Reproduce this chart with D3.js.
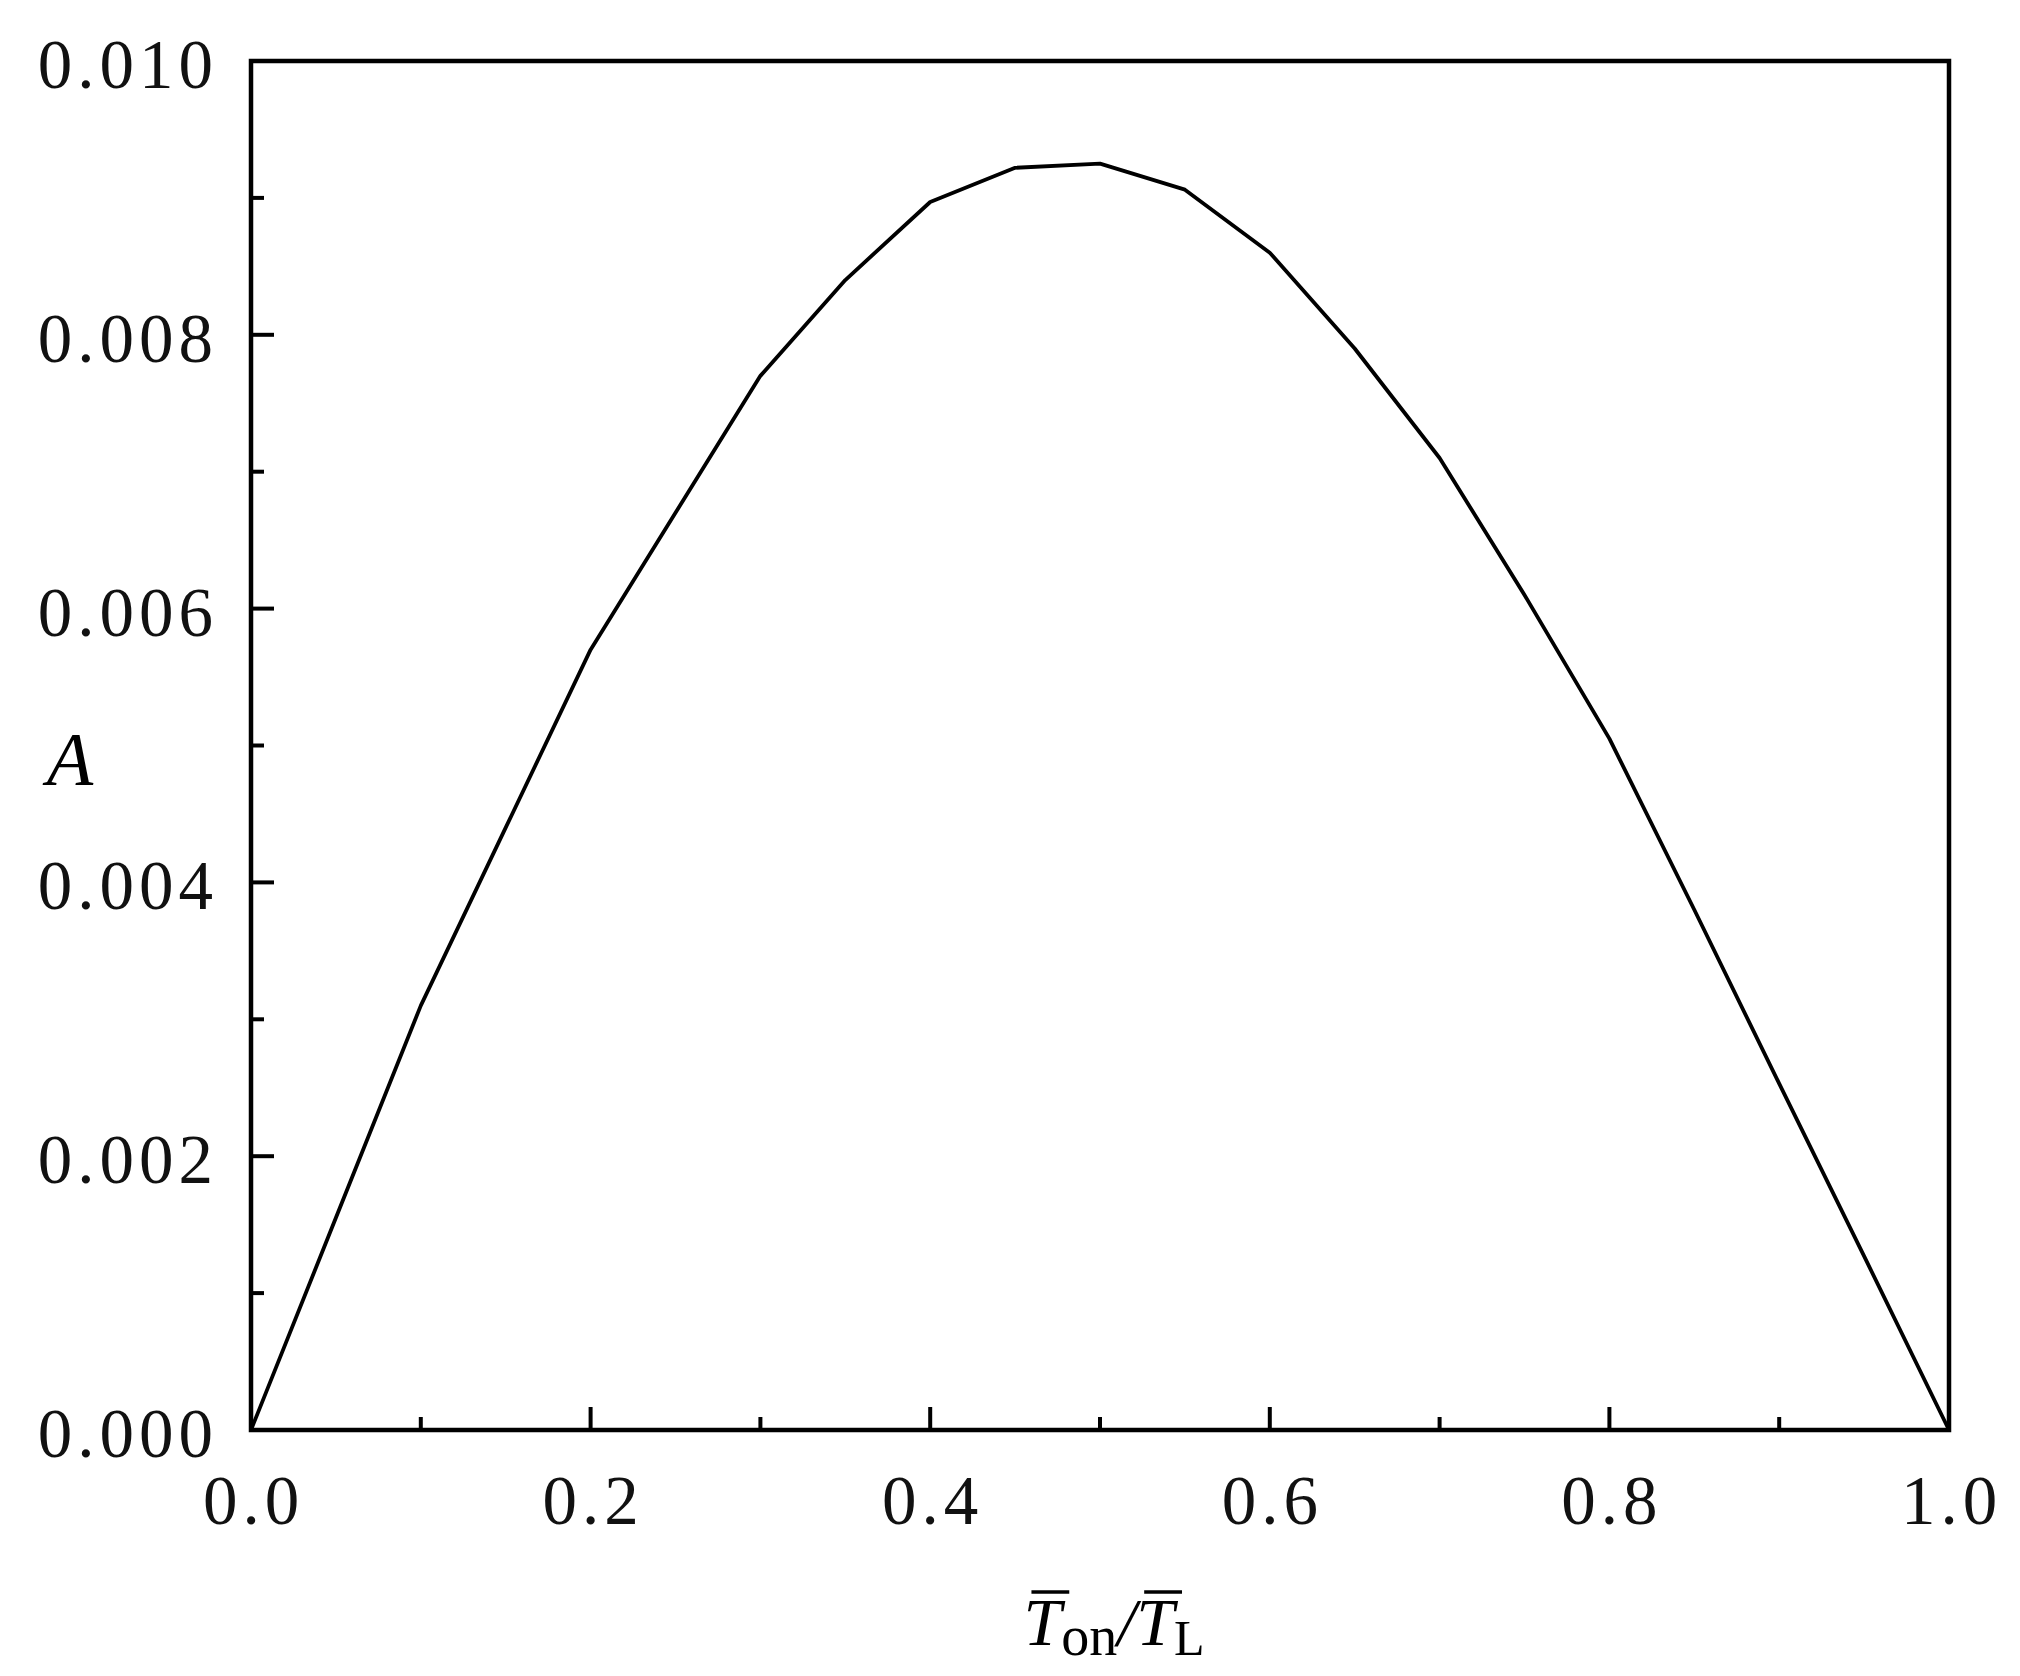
<!DOCTYPE html>
<html>
<head>
<meta charset="utf-8">
<script src="https://cdn.jsdelivr.net/npm/d3@7"></script>
<style>
  html, body { margin: 0; padding: 0; background: #fff; }
  svg { display: block; }
</style>
</head>
<body>
<svg id="chart" width="2020" height="1676"></svg>
<script>
// ---- data ----
const xValues = [0, 0.05, 0.1, 0.15, 0.2, 0.25, 0.3, 0.35, 0.4, 0.45, 0.5,
                 0.55, 0.6, 0.65, 0.7, 0.75, 0.8, 0.85, 0.9, 0.95, 1.0];
const aValues = [0, 0.00155, 0.0031, 0.0044, 0.0057, 0.0067, 0.0077, 0.0084, 0.00897, 0.00922, 0.00925,
                 0.00906, 0.0086, 0.0079, 0.0071, 0.0061, 0.00505, 0.0038, 0.00253, 0.00127, 0];
const xTicks = [0, 0.2, 0.4, 0.6, 0.8, 1.0];
const xMinorTicks = [0.1, 0.3, 0.5, 0.7, 0.9];
const yTicks = [0, 0.002, 0.004, 0.006, 0.008, 0.010];
const yMinorTicks = [0.001, 0.003, 0.005, 0.007, 0.009];
const yLabel = "A";

// ---- layout ----
const L = 251, R = 1949, T = 61, B = 1430;
const svg = d3.select("#chart");
const x = d3.scaleLinear().domain([0, 1]).range([L, R]);
const y = d3.scaleLinear().domain([0, 0.010]).range([B, T]);

const font = "'Liberation Serif', 'Times New Roman', serif";
const majorLen = 23, minorLen = 13, axisW = 4.5;

// frame
svg.append("rect")
  .attr("x", L).attr("y", T).attr("width", R - L).attr("height", B - T)
  .attr("fill", "none").attr("stroke", "#000").attr("stroke-width", axisW);

// bottom axis ticks (inward)
const gx = svg.append("g");
gx.selectAll("line.maj").data(xTicks).join("line")
  .attr("x1", d => x(d)).attr("x2", d => x(d))
  .attr("y1", B).attr("y2", B - majorLen)
  .attr("stroke", "#000").attr("stroke-width", 4);
gx.selectAll("line.min").data(xMinorTicks).join("line")
  .attr("x1", d => x(d)).attr("x2", d => x(d))
  .attr("y1", B).attr("y2", B - minorLen)
  .attr("stroke", "#000").attr("stroke-width", 4);
gx.selectAll("text").data(xTicks).join("text")
  .attr("x", d => x(d) + 2.5).attr("y", B + 94)
  .attr("text-anchor", "middle")
  .attr("font-family", font).attr("font-size", 69)
  .attr("letter-spacing", 5)
  .attr("fill", "#111")
  .text(d => d3.format(".1f")(d));

// left axis ticks (inward)
const gy = svg.append("g");
gy.selectAll("line.maj").data(yTicks).join("line")
  .attr("x1", L).attr("x2", L + majorLen)
  .attr("y1", d => y(d)).attr("y2", d => y(d))
  .attr("stroke", "#000").attr("stroke-width", 4);
gy.selectAll("line.min").data(yMinorTicks).join("line")
  .attr("x1", L).attr("x2", L + minorLen)
  .attr("y1", d => y(d)).attr("y2", d => y(d))
  .attr("stroke", "#000").attr("stroke-width", 4);
gy.selectAll("text").data(yTicks).join("text")
  .attr("x", 218).attr("y", d => y(d) + 27)
  .attr("text-anchor", "end")
  .attr("font-family", font).attr("font-size", 69)
  .attr("letter-spacing", 5)
  .attr("fill", "#111")
  .text(d => d3.format(".3f")(d));

// curve
const line = d3.line().x(d => x(d[0])).y(d => y(d[1]));
svg.append("path")
  .datum(xValues.map((v, i) => [v, aValues[i]]))
  .attr("d", line)
  .attr("fill", "none").attr("stroke", "#000").attr("stroke-width", 3.8)
  .attr("stroke-linejoin", "round");

// y-axis title
svg.append("text")
  .attr("x", 70).attr("y", 785)
  .attr("text-anchor", "middle")
  .attr("font-family", font).attr("font-style", "italic")
  .attr("font-size", 76).attr("fill", "#000")
  .text(yLabel);

// x-axis title: T̄on / T̄L
const xt = svg.append("text")
  .attr("x", 1114).attr("y", 1645)
  .attr("text-anchor", "middle")
  .attr("font-family", font).attr("font-size", 68).attr("fill", "#000");
xt.append("tspan").attr("font-style", "italic").text("T");
xt.append("tspan").attr("font-size", 56).attr("dy", 10).text("on");
xt.append("tspan").attr("font-style", "italic").attr("dy", -10).text("/");
xt.append("tspan").attr("font-style", "italic").text("T");
xt.append("tspan").attr("font-size", 50).attr("dy", 10).text("L");

// overbars above the two italic T glyphs
const node = xt.node();
[0, 4].forEach(i => {
  const ext = node.getExtentOfChar(i);
  svg.append("line")
    .attr("x1", ext.x + 8).attr("x2", ext.x + ext.width + 8)
    .attr("y1", 1592).attr("y2", 1592)
    .attr("stroke", "#000").attr("stroke-width", 3.5);
});
</script>
</body>
</html>
